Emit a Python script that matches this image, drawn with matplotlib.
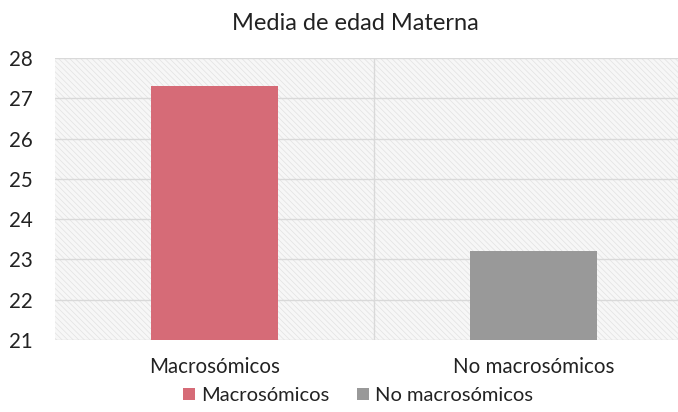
import matplotlib.pyplot as plt
import matplotlib.patches as mpatches
import numpy as np

plt.rcParams['font.family'] = ['Lato', 'DejaVu Sans']
plt.rcParams['hatch.linewidth'] = 0.5

# datos
categorias = ['Macrosómicos', 'No macrosómicos']
media_edad = [27.3, 23.2]
colores = ['#D66B77', '#999999']

fig = plt.figure(figsize=(6.78, 4.12), dpi=100)
# el área del gráfico sigue más allá del borde derecho
ax = fig.add_axes([55 / 678, 1 - 340 / 412, 638 / 678, 282 / 412])

# fondo con trama diagonal suave
ax.set_facecolor('#f7f7f7')
fondo = mpatches.Rectangle((0, 0), 1, 1, transform=ax.transAxes,
                           facecolor='#f7f7f7', edgecolor='#e2e2e2',
                           lw=0, hatch='\\\\\\\\\\\\', zorder=0)
ax.add_patch(fondo)

x = np.arange(len(categorias))
for i in range(len(categorias)):
    ax.bar(x[i], media_edad[i] - 21, 0.4, bottom=21, color=colores[i],
           label=categorias[i], zorder=3)

ax.set_ylim(21, 28)
ax.set_xlim(-0.5, 1.5)
ax.set_yticks(range(21, 29))
ax.set_xticks(x)
ax.set_xticklabels(categorias)
for y in range(21, 29):
    ax.axhline(y, color='#d9d9d9', lw=1, zorder=1)
ax.axvline(0.5, color='#d9d9d9', lw=1, zorder=1)

for s in ax.spines.values():
    s.set_visible(False)
ax.tick_params(length=0, labelsize=14.8, colors='#222222')
ax.tick_params(axis='x', pad=12)
ax.tick_params(axis='y', pad=16)

fig.text(0.524, 1 - 24 / 412, 'Media de edad Materna', ha='center',
         va='center', fontsize=17, color='#222222')

fig.legend(loc='lower center', bbox_to_anchor=(0.528, -0.025), ncol=2,
           frameon=False, fontsize=14.5, handlelength=0.6, handleheight=0.6,
           handletextpad=0.3, columnspacing=1.4, labelcolor='#222222')

plt.savefig('out.png', dpi=100)
